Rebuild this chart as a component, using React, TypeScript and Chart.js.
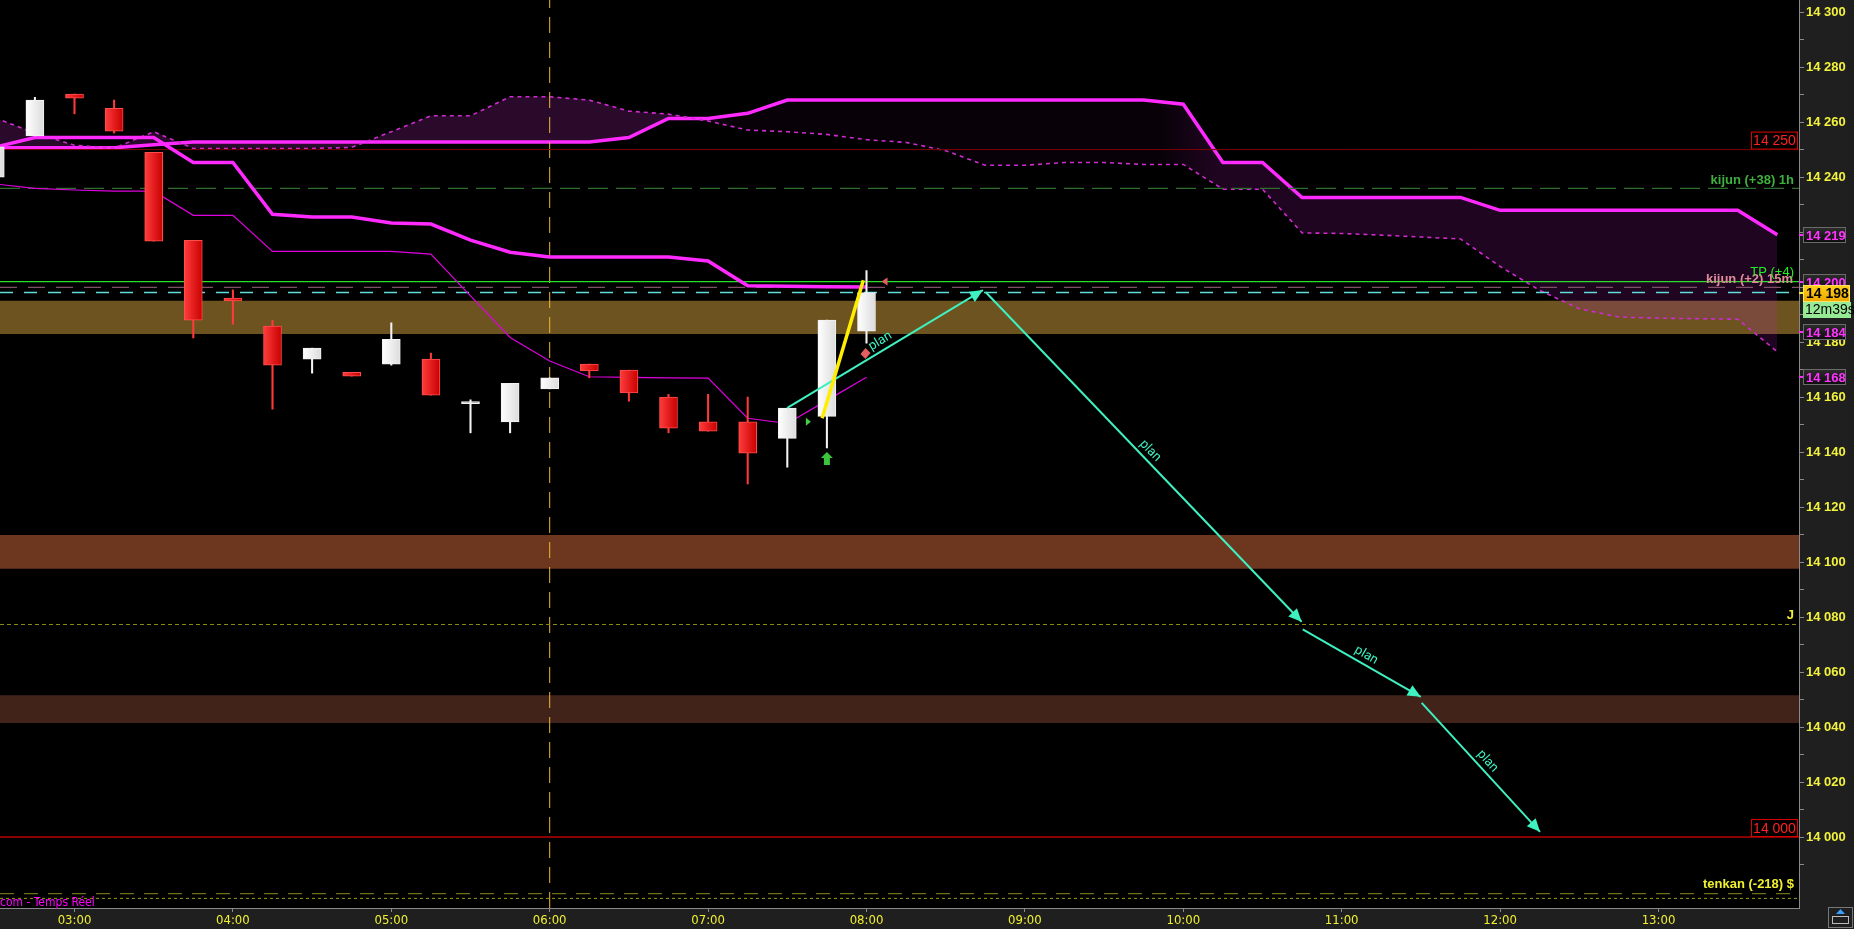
import React, { useEffect, useRef } from 'react';
import { Chart, registerables } from 'chart.js';

Chart.register(...registerables);

const W = 1854;
const H = 929;
const X_MIN = 2.5297;
const X_MAX = 13.887;
const Y_MIN = 13974.2;
const Y_MAX = 14304.4;

// ---- candles (15 min), time in hours ----
const candleTimes = [2.5, 2.75, 3, 3.25, 3.5, 3.75, 4, 4.25, 4.5, 4.75, 5, 5.25, 5.5, 5.75, 6, 6.25, 6.5, 6.75, 7, 7.25, 7.5, 7.75, 8];
const opens = [14240, 14255, 14270.2, 14265, 14249, 14217, 14196, 14185.8, 14173.8, 14169, 14172, 14173.8, 14157.6, 14151, 14163, 14172, 14169.8, 14160, 14151, 14151, 14145, 14153, 14184];
const highs = [14251, 14269, 14270.2, 14268, 14249, 14217, 14199, 14188, 14177.8, 14169, 14187, 14176, 14159, 14165, 14167, 14172, 14169.8, 14161, 14161, 14160, 14156, 14188, 14206];
const lows = [14240, 14255, 14263, 14256, 14216.7, 14181.5, 14186.5, 14155.6, 14168.7, 14167.6, 14171.6, 14160.7, 14147, 14147, 14163, 14167, 14158.5, 14147, 14147.6, 14128.4, 14134.5, 14141.5, 14179.6];
const closes = [14251, 14268, 14268.7, 14256.7, 14216.7, 14188, 14195, 14171.6, 14177.8, 14167.6, 14181, 14160.7, 14157.8, 14165, 14167, 14169.5, 14161.5, 14148.7, 14147.6, 14139.6, 14156, 14188, 14198];

// ---- kijun (thick) and tenkan (thin) ----
const kijun15 = [14250.9, 14254.4, 14254.4, 14254.4, 14254.4, 14245.3, 14245.3, 14226.5, 14225.5, 14225.5, 14223.3, 14222.9, 14217.1, 14212.7, 14210.9, 14210.9, 14210.9, 14210.9, 14209.5, 14200.5, 14200.3, 14200.1, 14200];
const tenkan15 = [14237.5, 14235.9, 14235.3, 14234.9, 14234.9, 14226.1, 14226.1, 14213, 14213, 14213, 14213, 14212, 14196.8, 14181.7, 14173.1, 14167.4, 14167.2, 14167, 14166.9, 14152.3, 14150.4, 14158.8, 14167.2];

// ---- cloud ----
const cloudTimes = [2.5, 2.75, 3, 3.25, 3.5, 3.75, 4, 4.25, 4.5, 4.75, 5, 5.25, 5.5, 5.75, 6, 6.25, 6.5, 6.75, 7, 7.25, 7.5, 7.75, 8, 8.25, 8.5, 8.75, 9, 9.25, 9.5, 9.75, 10, 10.25, 10.5, 10.75, 11, 11.25, 11.5, 11.75, 12, 12.25, 12.5, 12.75, 13, 13.25, 13.5, 13.75];
const spanSolid = [14250.7, 14250.7, 14250.7, 14250.7, 14251.8, 14252.8, 14252.8, 14252.8, 14252.8, 14252.8, 14252.8, 14252.8, 14252.8, 14252.8, 14252.8, 14252.8, 14254.4, 14261.3, 14261.3, 14263.2, 14268, 14268, 14268, 14268, 14268, 14268, 14268, 14268, 14268, 14268, 14266.5, 14245.3, 14245.3, 14232.6, 14232.6, 14232.6, 14232.6, 14232.6, 14227.9, 14227.9, 14227.9, 14227.9, 14227.9, 14227.9, 14227.9, 14219];
const spanDashed = [14261.5, 14256, 14251.6, 14250.5, 14256.5, 14250.4, 14250.4, 14250.4, 14250.4, 14250.8, 14256.5, 14262.3, 14262.3, 14269.2, 14269.2, 14268, 14264, 14262.9, 14260.4, 14257.1, 14256.5, 14255.5, 14253.6, 14252.6, 14249.6, 14244.3, 14244.3, 14245.3, 14245.3, 14244.6, 14244.6, 14235.6, 14235.6, 14219.7, 14219.5, 14218.9, 14218.2, 14217.5, 14207.5, 14198.8, 14192.1, 14189.1, 14188.7, 14188.5, 14188.3, 14176.5];

// ---- levels ----
const bandTops = [14195, 14109.8, 14051.6];
const bandBottoms = [14182.9, 14097.6, 14041.5];
const bandColors = ['#6d5320', '#6d361f', '#42231a'];

const redLevels = [14250, 14000];
const kijun1hLevel = 14235.9;
const tpLevel = 14202;
const kijun15Level = 14199.9;
const priceLevel = 14198;
const jLevel = 14077.3;
const tenkanDashLevel = 13979.4;
const tenkanDotLevel = 13977.7;
const sessionTime = 6;

// ---- plan arrows ----
const planStartT = [7.5, 8.753, 10.754, 11.505];
const planStartV = [14156.1, 14198.1, 14075.5, 14048.8];
const planEndT = [8.735, 10.747, 11.499, 12.252];
const planEndV = [14198.9, 14078.3, 14051, 14001.9];

const yellowT = [7.72, 7.98];
const yellowV = [14152.3, 14202.5];

// ---- ticks ----
const hourTicks = [3, 4, 5, 6, 7, 8, 9, 10, 11, 12, 13];
const priceTicks = [13990, 14000, 14010, 14020, 14030, 14040, 14050, 14060, 14070, 14080, 14090, 14100, 14110, 14120, 14130, 14140, 14150, 14160, 14170, 14180, 14190, 14200, 14210, 14220, 14230, 14240, 14250, 14260, 14270, 14280, 14290, 14300];

// ---- right axis boxes ----
const magentaBoxValues = [14219, 14201.8, 14183.6, 14167.3];
const magentaBoxTexts = ['14 219', '14 200', '14 184', '14 168'];
const lastPrice = 14198;
const countdownText = '12m39s';

const PLAN = '#3ff0c0';
const MAG = '#ff2aff';

const fmtPrice = (v: number) => {
  const r = Math.round(v);
  return `${Math.floor(r / 1000)} ${String(r % 1000).padStart(3, '0')}`;
};

const pts = (xs: number[], ys: number[]) => xs.map((x, i) => ({ x, y: ys[i] }));

const hline = (v: number, color: string, width: number, dash: number[], order: number) => ({
  type: 'line',
  data: [{ x: X_MIN, y: v }, { x: X_MAX, y: v }],
  borderColor: color,
  borderWidth: width,
  borderDash: dash,
  pointRadius: 0,
  fill: false,
  order,
});

const overlay = {
  id: 'overlay',
  beforeDraw(chart: any) {
    const { ctx, chartArea: a } = chart;
    ctx.save();
    ctx.fillStyle = '#1f1f1f';
    ctx.fillRect(0, 0, chart.width, chart.height);
    ctx.fillStyle = '#000000';
    ctx.fillRect(a.left, a.top, a.right - a.left, a.bottom - a.top);
    ctx.restore();
  },
  afterDatasetsDraw(chart: any) {
    const { ctx, chartArea: a } = chart;
    const xs = chart.scales.x;
    const ys = chart.scales.y;
    ctx.save();
    ctx.beginPath();
    ctx.rect(a.left, a.top, a.right - a.left, a.bottom - a.top);
    ctx.clip();

    // plan arrowheads + labels
    for (let i = 0; i < planStartT.length; i++) {
      const x0 = xs.getPixelForValue(planStartT[i]);
      const y0 = ys.getPixelForValue(planStartV[i]);
      const x1 = xs.getPixelForValue(planEndT[i]);
      const y1 = ys.getPixelForValue(planEndV[i]);
      const ang = Math.atan2(y1 - y0, x1 - x0);
      const c = Math.cos(ang), s = Math.sin(ang);
      const L = 13, Wd = 6;
      ctx.fillStyle = PLAN;
      ctx.beginPath();
      ctx.moveTo(x1, y1);
      ctx.lineTo(x1 - L * c + Wd * s, y1 - L * s - Wd * c);
      ctx.lineTo(x1 - L * c - Wd * s, y1 - L * s + Wd * c);
      ctx.closePath();
      ctx.fill();

      let la = ang;
      if (la > Math.PI / 2) la -= Math.PI;
      if (la < -Math.PI / 2) la += Math.PI;
      const nx = Math.sin(la), ny = -Math.cos(la);
      const mx = (x0 + x1) / 2 + nx * 9;
      const my = (y0 + y1) / 2 + ny * 9;
      ctx.save();
      ctx.translate(mx, my);
      ctx.rotate(la);
      ctx.font = '13px Roboto, "Open Sans", sans-serif';
      ctx.textAlign = 'center';
      ctx.textBaseline = 'middle';
      ctx.fillText('plan', 0, 0);
      ctx.restore();
    }

    const px = (t: number) => xs.getPixelForValue(t);
    const py = (v: number) => ys.getPixelForValue(v);
    // green up arrow
    {
      const x = px(7.75), y = py(14137.5);
      ctx.fillStyle = '#3cc43c';
      ctx.beginPath();
      ctx.moveTo(x, y - 7);
      ctx.lineTo(x + 6, y - 1);
      ctx.lineTo(x + 3, y - 1);
      ctx.lineTo(x + 3, y + 6);
      ctx.lineTo(x - 3, y + 6);
      ctx.lineTo(x - 3, y - 1);
      ctx.lineTo(x - 6, y - 1);
      ctx.closePath();
      ctx.fill();
    }
    // green small right triangle
    {
      const x = px(7.63), y = py(14151);
      ctx.fillStyle = '#44d044';
      ctx.beginPath();
      ctx.moveTo(x - 2, y - 4);
      ctx.lineTo(x + 3, y);
      ctx.lineTo(x - 2, y + 4);
      ctx.closePath();
      ctx.fill();
    }
    // salmon markers
    {
      const x = px(8.0), y = py(14176);
      ctx.fillStyle = '#e46060';
      ctx.beginPath();
      ctx.moveTo(x - 1, y - 5);
      ctx.lineTo(x + 4, y);
      ctx.lineTo(x - 1, y + 6);
      ctx.lineTo(x - 6, y + 1);
      ctx.closePath();
      ctx.fill();
      const x2 = px(8.12), y2 = py(14202);
      ctx.beginPath();
      ctx.moveTo(x2 - 4, y2);
      ctx.lineTo(x2 + 2, y2 - 4);
      ctx.lineTo(x2 + 2, y2 + 4);
      ctx.closePath();
      ctx.fill();
    }
    ctx.restore();
  },
  afterDraw(chart: any) {
    const { ctx, chartArea: a } = chart;
    const ys = chart.scales.y;
    const right = a.right;
    ctx.save();

    ctx.textBaseline = 'middle';
    ctx.textAlign = 'right';
    ctx.font = 'bold 13px "Liberation Sans", Arial, sans-serif';
    ctx.fillStyle = '#3db03d';
    ctx.fillText('kijun (+38) 1h', right - 5, ys.getPixelForValue(kijun1hLevel) - 8);
    ctx.fillStyle = '#e08a9c';
    ctx.fillText('kijun (+2) 15m', right - 6, ys.getPixelForValue(kijun15Level) - 8);
    ctx.font = '13px "Liberation Sans", Arial, sans-serif';
    ctx.fillStyle = '#22ee22';
    ctx.fillText('TP (+4)', right - 5, ys.getPixelForValue(tpLevel) - 9);
    ctx.font = 'bold 13px "Liberation Sans", Arial, sans-serif';
    ctx.fillStyle = '#f0f030';
    ctx.fillText('J', right - 5, ys.getPixelForValue(jLevel) - 9);
    ctx.fillText('tenkan (-218) $', right - 5, ys.getPixelForValue(tenkanDashLevel) - 9);

    ctx.font = '14px "Liberation Sans", Arial, sans-serif';
    redLevels.forEach((v) => {
      const y = ys.getPixelForValue(v);
      ctx.fillStyle = '#000';
      ctx.fillRect(right - 48, y - 18, 47, 18);
      ctx.strokeStyle = '#e00000';
      ctx.lineWidth = 1;
      ctx.strokeRect(right - 47.5, y - 17.5, 46, 17);
      ctx.fillStyle = '#ff2020';
      ctx.textAlign = 'center';
      ctx.fillText(fmtPrice(v), right - 24.5, y - 8);
    });

    ctx.textAlign = 'left';
    ctx.font = '12px "Liberation Sans Narrow", "DejaVu Sans Condensed", "Liberation Sans", sans-serif';
    ctx.fillStyle = '#ff00ff';
    ctx.fillText('com - Temps Réel', a.left, a.bottom - 5);

    const bx = right + 4;
    const drawMagBox = (v: number, text: string) => {
      const y = Math.round(ys.getPixelForValue(v));
      ctx.fillStyle = MAG;
      ctx.fillRect(right, y - 1, 4, 2);
      const g = ctx.createLinearGradient(0, y - 8, 0, y + 8);
      g.addColorStop(0, '#2e2e2e');
      g.addColorStop(1, '#0c0c0c');
      ctx.fillStyle = g;
      ctx.fillRect(bx, y - 8, 43, 16);
      ctx.strokeStyle = '#6a6a6a';
      ctx.lineWidth = 1;
      ctx.strokeRect(bx + 0.5, y - 7.5, 42, 15);
      ctx.fillStyle = '#ff33ff';
      ctx.font = 'bold 13px "Liberation Sans", Arial, sans-serif';
      ctx.textAlign = 'left';
      ctx.fillText(text, bx + 3, y + 1);
    };
    magentaBoxValues.forEach((v, i) => drawMagBox(v, magentaBoxTexts[i]));

    const yp = Math.round(ys.getPixelForValue(lastPrice));
    ctx.fillStyle = '#f0f030';
    ctx.fillRect(right, yp - 1, 4, 2);
    const gy = ctx.createLinearGradient(0, yp - 8, 0, yp + 8);
    gy.addColorStop(0, '#ffd21a');
    gy.addColorStop(1, '#f0a800');
    ctx.fillStyle = gy;
    ctx.fillRect(bx, yp - 8, 47, 17);
    ctx.strokeStyle = '#ffe060';
    ctx.strokeRect(bx + 0.5, yp - 7.5, 46, 16);
    ctx.fillStyle = '#000';
    ctx.font = 'bold 14px "Liberation Sans", Arial, sans-serif';
    ctx.fillText(fmtPrice(lastPrice), bx + 3, yp + 1);

    ctx.fillStyle = '#96ea96';
    ctx.fillRect(bx, yp + 9, 48, 16);
    ctx.fillStyle = '#000';
    ctx.font = '14px "Liberation Sans", Arial, sans-serif';
    ctx.fillText(countdownText, bx + 2, yp + 17.5);

    ctx.strokeStyle = '#777';
    ctx.strokeRect(chart.width - 25.5, chart.height - 21.5, 24, 20);
    ctx.fillStyle = '#3aa0ff';
    ctx.beginPath();
    ctx.moveTo(chart.width - 13.5, chart.height - 20);
    ctx.lineTo(chart.width - 9, chart.height - 15);
    ctx.lineTo(chart.width - 18, chart.height - 15);
    ctx.closePath();
    ctx.fill();
    ctx.strokeStyle = '#bbb';
    ctx.strokeRect(chart.width - 21.5, chart.height - 12.5, 16, 7);

    ctx.restore();
  },
};

export default function App() {
  const ref = useRef<HTMLCanvasElement | null>(null);

  useEffect(() => {
    document.body.style.margin = '0';
    document.body.style.background = '#1f1f1f';
    const canvas = ref.current;
    if (!canvas) return;

    const isBull = closes.map((c, i) => c >= opens[i]);
    const bodyBorder = isBull.map((b) => (b ? '#f2f2f2' : '#ff4d4d'));
    const wickColor = isBull.map((b) => (b ? '#f4f4f4' : '#ff3a3a'));

    const bodyFill = (c: any) => {
      const bull = isBull[c.dataIndex];
      const chart = c.chart;
      const sx = chart.scales && chart.scales.x;
      if (!sx || !chart.chartArea) return bull ? '#f2f2f2' : '#e41c1c';
      const x = sx.getPixelForValue(candleTimes[c.dataIndex]);
      const g = chart.ctx.createLinearGradient(x - 9, 0, x + 9, 0);
      if (bull) {
        g.addColorStop(0, '#ffffff');
        g.addColorStop(1, '#dcdcdc');
      } else {
        g.addColorStop(0, '#ff3c3c');
        g.addColorStop(1, '#c80000');
      }
      return g;
    };

    const datasets: any[] = [];

    bandTops.forEach((top, i) => {
      datasets.push({
        type: 'line',
        data: [{ x: X_MIN, y: top }, { x: X_MAX, y: top }],
        borderWidth: 0,
        borderColor: 'rgba(0,0,0,0)',
        backgroundColor: bandColors[i],
        fill: { value: bandBottoms[i] },
        pointRadius: 0,
        order: 100,
      });
    });

    datasets.push({
      type: 'line',
      data: pts(cloudTimes, spanSolid),
      borderColor: MAG,
      borderWidth: 3.5,
      pointRadius: 0,
      fill: '+1',
      backgroundColor: (c: any) => {
        const chart = c.chart;
        const a = chart.chartArea;
        if (!a) return 'rgba(200,40,200,0.18)';
        const g = chart.ctx.createLinearGradient(a.left, 0, a.right, 0);
        g.addColorStop(0, 'rgba(200,48,200,0.21)');
        g.addColorStop(0.385, 'rgba(200,48,200,0.21)');
        g.addColorStop(0.405, 'rgba(200,30,200,0.04)');
        g.addColorStop(0.645, 'rgba(200,30,200,0.04)');
        g.addColorStop(0.675, 'rgba(190,30,200,0.16)');
        g.addColorStop(1, 'rgba(190,30,200,0.16)');
        return g;
      },
      order: 90,
    });
    datasets.push({
      type: 'line',
      data: pts(cloudTimes, spanDashed),
      borderColor: '#d02ad0',
      borderWidth: 1.6,
      borderDash: [4, 4],
      pointRadius: 0,
      fill: false,
      order: 89,
    });

    datasets.push(hline(redLevels[0], '#7c0000', 1, [], 80));
    datasets.push(hline(redLevels[1], '#8a0000', 2, [], 80));
    datasets.push(hline(kijun1hLevel, '#2e6e2e', 1.3, [20, 8], 80));
    datasets.push(hline(tpLevel, '#28e028', 1.3, [], 80));
    datasets.push(hline(kijun15Level, '#80506a', 1.3, [17, 11], 80));
    datasets.push(hline(priceLevel, '#62dcdc', 1.5, [13, 11], 80));
    datasets.push(hline(jLevel, '#8c8c14', 1, [4, 3], 80));
    datasets.push(hline(tenkanDashLevel, '#6e6e14', 1.3, [14, 10], 80));
    datasets.push(hline(tenkanDotLevel, '#9a9a10', 1, [3, 3], 80));

    datasets.push({
      type: 'line',
      data: [{ x: sessionTime, y: Y_MIN }, { x: sessionTime, y: Y_MAX }],
      borderColor: '#f0b830',
      borderWidth: 1,
      borderDash: [16, 9],
      pointRadius: 0,
      fill: false,
      order: 85,
    });

    datasets.push({
      type: 'line',
      data: pts(candleTimes, tenkan15),
      borderColor: '#e000e0',
      borderWidth: 1.2,
      pointRadius: 0,
      fill: false,
      order: 52,
    });
    datasets.push({
      type: 'line',
      data: pts(candleTimes, kijun15),
      borderColor: MAG,
      borderWidth: 3.5,
      pointRadius: 0,
      fill: false,
      order: 51,
    });

    datasets.push({
      type: 'bar',
      data: candleTimes.map((t, i) => ({ x: t, y: [lows[i], highs[i]] })),
      backgroundColor: wickColor,
      borderWidth: 0,
      barThickness: 1.4,
      grouped: false,
      order: 20,
    });
    datasets.push({
      type: 'bar',
      data: candleTimes.map((t, i) => ({ x: t, y: [opens[i], closes[i]] })),
      backgroundColor: bodyFill,
      borderColor: bodyBorder,
      borderWidth: 1,
      borderSkipped: false,
      barThickness: 18,
      minBarLength: 2,
      grouped: false,
      order: 10,
    });

    planStartT.forEach((t, i) => {
      datasets.push({
        type: 'line',
        data: [{ x: t, y: planStartV[i] }, { x: planEndT[i], y: planEndV[i] }],
        borderColor: PLAN,
        borderWidth: 2,
        pointRadius: 0,
        fill: false,
        order: 6,
      });
    });

    datasets.push({
      type: 'line',
      data: pts(yellowT, yellowV),
      borderColor: '#ffee00',
      borderWidth: 3.5,
      pointRadius: 0,
      fill: false,
      order: 5,
    });

    const chart = new Chart(canvas, {
      type: 'line',
      data: { datasets },
      plugins: [overlay],
      options: {
        responsive: false,
        animation: false,
        devicePixelRatio: 1,
        events: [],
        layout: { padding: 0 },
        plugins: { legend: { display: false }, tooltip: { enabled: false } },
        scales: {
          x: {
            type: 'linear',
            min: X_MIN,
            max: X_MAX,
            offset: false,
            grid: { display: true, drawOnChartArea: false, drawTicks: true, tickLength: 4, tickColor: '#8a8a8a', offset: false },
            border: { display: true, color: '#8a8a8a', width: 1 },
            ticks: {
              color: '#f0f030',
              font: { family: '"Liberation Sans Narrow", "DejaVu Sans Condensed", "Liberation Sans", sans-serif', size: 13 },
              padding: 1,
              maxRotation: 0,
              autoSkip: false,
              callback: (v: any) => `${String(v).padStart(2, '0')}:00`,
            },
            afterBuildTicks: (s: any) => {
              s.ticks = hourTicks.map((v) => ({ value: v }));
            },
            afterFit: (s: any) => {
              s.height = 21;
              s.paddingLeft = 0;
              s.paddingRight = 0;
            },
          },
          y: {
            type: 'linear',
            position: 'right',
            min: Y_MIN,
            max: Y_MAX,
            grid: { display: true, drawOnChartArea: false, drawTicks: true, tickLength: 5, tickColor: '#8a8a8a' },
            border: { display: true, color: '#8a8a8a', width: 1 },
            ticks: {
              color: '#f2f23c',
              font: { family: '"Liberation Sans", Arial, sans-serif', size: 13, weight: 'bold' },
              padding: 2,
              autoSkip: false,
              callback: (v: any) => (Math.round(v) % 20 === 0 ? fmtPrice(v) : ''),
            },
            afterBuildTicks: (s: any) => {
              s.ticks = priceTicks.map((v) => ({ value: v }));
            },
            afterFit: (s: any) => {
              s.width = 55;
              s.paddingTop = 0;
              s.paddingBottom = 0;
            },
          },
        },
      } as any,
    } as any);

    return () => {
      chart.destroy();
    };
  }, []);

  return (
    <div style={{ width: W, height: H, overflow: 'hidden' }}>
      <canvas ref={ref} width={W} height={H} style={{ display: 'block', width: W, height: H }} />
    </div>
  );
}
